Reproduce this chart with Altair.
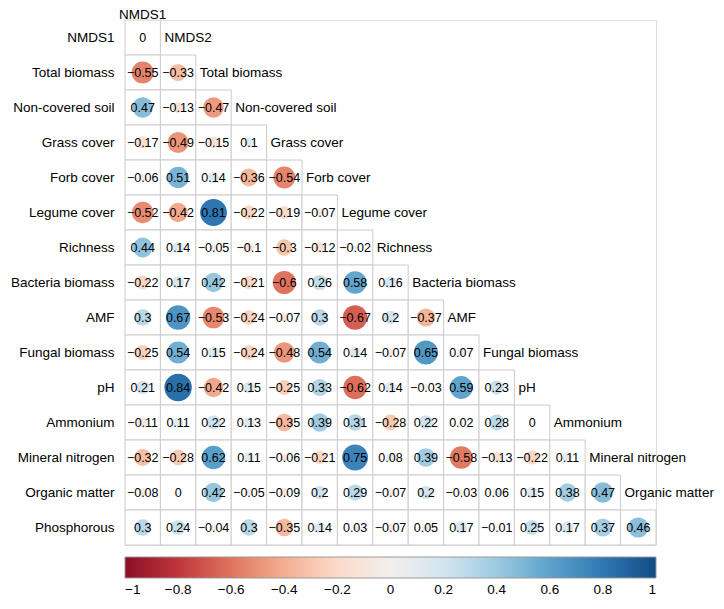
import altair as alt
import pandas as pd

rows = ["NMDS1", "Total biomass", "Non-covered soil", "Grass cover", "Forb cover",
        "Legume cover", "Richness", "Bacteria biomass", "AMF", "Fungal biomass",
        "pH", "Ammonium", "Mineral nitrogen", "Organic matter", "Phosphorous"]
cols = ["NMDS1", "NMDS2", "Total biomass", "Non-covered soil", "Grass cover",
        "Forb cover", "Legume cover", "Richness", "Bacteria biomass", "AMF",
        "Fungal biomass", "pH", "Ammonium", "Mineral nitrogen", "Organic matter"]

r_nmds1 = [0]
r_total_biomass = [-0.55, -0.33]
r_noncovered = [0.47, -0.13, -0.47]
r_grass = [-0.17, -0.49, -0.15, 0.1]
r_forb = [-0.06, 0.51, 0.14, -0.36, -0.54]
r_legume = [-0.52, -0.42, 0.81, -0.22, -0.19, -0.07]
r_richness = [0.44, 0.14, -0.05, -0.1, -0.3, -0.12, -0.02]
r_bacteria = [-0.22, 0.17, 0.42, -0.21, -0.6, 0.26, 0.58, 0.16]
r_amf = [0.3, 0.67, -0.53, -0.24, -0.07, 0.3, -0.67, 0.2, -0.37]
r_fungal = [-0.25, 0.54, 0.15, -0.24, -0.48, 0.54, 0.14, -0.07, 0.65, 0.07]
r_ph = [0.21, 0.84, -0.42, 0.15, -0.25, 0.33, -0.62, 0.14, -0.03, 0.59, 0.23]
r_ammonium = [-0.11, 0.11, 0.22, 0.13, -0.35, 0.39, 0.31, -0.28, 0.22, 0.02, 0.28, 0]
r_mineral_n = [-0.32, -0.28, 0.62, 0.11, -0.06, -0.21, 0.75, 0.08, 0.39, -0.58, -0.13, -0.22, 0.11]
r_organic = [-0.08, 0, 0.42, -0.05, -0.09, 0.2, 0.29, -0.07, 0.2, -0.03, 0.06, 0.15, 0.38, 0.47]
r_phosphorous = [0.3, 0.24, -0.04, 0.3, -0.35, 0.14, 0.03, -0.07, 0.05, 0.17, -0.01, 0.25, 0.17, 0.37, 0.46]

row_values = [r_nmds1, r_total_biomass, r_noncovered, r_grass, r_forb, r_legume,
              r_richness, r_bacteria, r_amf, r_fungal, r_ph, r_ammonium,
              r_mineral_n, r_organic, r_phosphorous]

legend_ticks = [-1, -0.8, -0.6, -0.4, -0.2, 0, 0.2, 0.4, 0.6, 0.8, 1]

recs = []
for i, rname in enumerate(rows):
    for j, v in enumerate(row_values[i]):
        recs.append({"row": rname, "col": cols[j], "r": v, "absr": abs(v)})
cells = pd.DataFrame(recs)

diag = pd.DataFrame([{"row": rows[j - 1], "col": cols[j], "label": cols[j]}
                     for j in range(1, len(cols))])

W, H = 531, 525
cw = W / len(cols)
FONT = "Liberation Sans"
LBL = 13.5

x_enc = alt.X("col:N", sort=cols,
              scale=alt.Scale(domain=cols, paddingInner=0, paddingOuter=0),
              axis=alt.Axis(orient="top", title=None, ticks=False, domain=False,
                            labelAngle=0, labelPadding=2, labelBaseline="alphabetic",
                            labelFontSize=LBL, labelColor="black", labelFont=FONT,
                            labelExpr="datum.value == 'NMDS1' ? datum.value : ''"))
y_enc = alt.Y("row:N", sort=rows,
              scale=alt.Scale(domain=rows, paddingInner=0, paddingOuter=0),
              axis=alt.Axis(title=None, ticks=False, domain=False, labelPadding=11,
                            labelFontSize=LBL, labelColor="black", labelFont=FONT))

grid = alt.Chart(cells).mark_rect(fill="white", stroke="#cccccc", strokeWidth=1).encode(
    x=x_enc, y=y_enc)

circles = alt.Chart(cells).mark_circle(opacity=1).encode(
    x=x_enc, y=y_enc,
    size=alt.Size("absr:Q", scale=alt.Scale(domain=[0, 1], range=[0, 890]), legend=None),
    color=alt.Color("r:Q", scale=alt.Scale(scheme="redblue", domain=[-1, 1]),
                    legend=alt.Legend(title=None, orient="none", direction="horizontal",
                                      legendX=0, legendY=H + 12,
                                      gradientLength=W, gradientThickness=21,
                                      gradientStrokeColor="#999999", gradientStrokeWidth=1,
                                      values=legend_ticks, format=".1~f",
                                      labelAlign="center",
                                      labelOffset=5, labelFontSize=13.5,
                                      labelColor="black", labelFont=FONT,
                                      labelOverlap=False, padding=0)))

values_text = alt.Chart(cells).mark_text(fontSize=12.5, color="black", font=FONT).encode(
    x=x_enc, y=y_enc, text=alt.Text("r:Q", format=".2~f"))

diag_text = alt.Chart(diag).mark_text(align="left", dx=-cw / 2 + 4, fontSize=LBL,
                                      color="black", font=FONT).encode(
    x=x_enc, y=y_enc, text="label:N")

chart = alt.layer(grid, circles, values_text, diag_text).properties(
    width=W, height=H,
    autosize=alt.AutoSizeParams(type="none"),
    padding={"left": 117, "top": 12, "right": 60, "bottom": 55},
).configure_view(stroke=None).configure(font=FONT)

chart.save("out.html", embed_options={"renderer": "svg", "actions": False})
